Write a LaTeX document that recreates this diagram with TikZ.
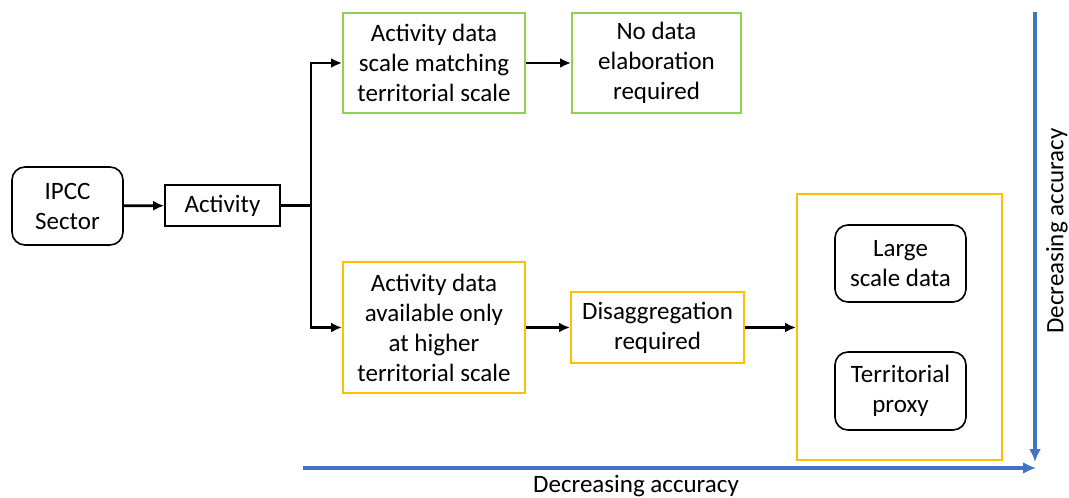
\documentclass[tikz,border=0pt]{standalone}
\usepackage{fontspec}
\setmainfont{Carlito}
\usetikzlibrary{arrows.meta}
\definecolor{boxgreen}{HTML}{92D050}
\definecolor{boxyellow}{HTML}{FFC000}
\definecolor{axisblue}{HTML}{4472C4}
\begin{document}
\begin{tikzpicture}[x=1pt,y=-1pt,
  every node/.style={font=\fontsize{25}{30}\selectfont, align=center, inner sep=0pt},
  blackbox/.style={draw=black, line width=1.6pt},
  roundbox/.style={blackbox, rounded corners=13pt},
  greenbox/.style={draw=boxgreen, line width=2pt},
  yellowbox/.style={draw=boxyellow, line width=2pt},
  flow/.style={line width=2.8pt, -{Latex[length=11pt,width=10pt]}},
  axis/.style={draw=axisblue, line width=3.4pt, -{Latex[length=13pt,width=12pt]}}
]
\useasboundingbox (0,0) rectangle (1069,498);

% left part of the chain
\node[roundbox, minimum width=111pt, minimum height=78pt] (ipcc) at (67.5,206) {IPCC\\Sector};
\node[blackbox, minimum width=115pt, minimum height=41pt] (act) at (222.5,205.5) {Activity};
\coordinate (split) at (311,205.5);

% upper branch
\node[greenbox, minimum width=182pt, minimum height=100pt] (match) at (434,63) {Activity data\\scale matching\\territorial scale};
\node[greenbox, minimum width=169pt, minimum height=100pt] (noelab) at (656.5,63) {No data\\elaboration\\required};

% lower branch
\node[yellowbox, minimum width=182pt, minimum height=131pt] (higher) at (434,327.5) {Activity data\\available only\\at higher\\territorial scale};
\node[yellowbox, minimum width=173pt, minimum height=71pt] (disagg) at (657.5,327.5) {Disaggregation\\required};

% disaggregation methods
\node[yellowbox, minimum width=205pt, minimum height=266pt] (methods) at (899.5,327) {};
\node[roundbox, minimum width=131pt, minimum height=77pt] (large) at (900.5,263.5) {Large\\scale data};
\node[roundbox, minimum width=131pt, minimum height=78pt] (proxy) at (900.5,391) {Territorial\\proxy};

% connectors
\draw[flow] (ipcc) -- (act);
\draw[line width=2.8pt] (act.east) -- (split);
\draw[flow] (split) |- (match.west);
\draw[flow] (split) |- (higher.west);
\draw[flow] (match) -- (noelab);
\draw[flow] (higher) -- (disagg);
\draw[flow] (disagg) -- (methods.west |- disagg.east);

% accuracy axes
\coordinate (hstart) at (303,468);
\coordinate (hend) at (1036,468);
\coordinate (vstart) at (1035,12);
\coordinate (vend) at (1035,462);
\draw[axis] (hstart) -- (hend);
\draw[axis] (vstart) -- (vend);
\node (hlabel) at (636,486) {Decreasing accuracy};
\node[rotate=90] (vlabel) at (1057,231) {Decreasing accuracy};
\end{tikzpicture}
\end{document}
